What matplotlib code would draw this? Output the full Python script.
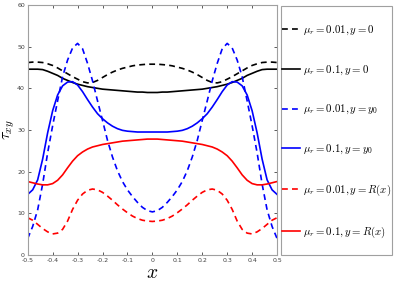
import matplotlib
matplotlib.use("Agg")
import matplotlib.pyplot as plt
from matplotlib.patches import Rectangle

plt.rcParams['mathtext.fontset'] = 'cm'

x = [-0.50, -0.48, -0.46, -0.44, -0.42, -0.40, -0.38, -0.36, -0.34, -0.32,
     -0.30, -0.28, -0.26, -0.24, -0.22, -0.20, -0.18, -0.16, -0.14, -0.12,
     -0.10, -0.08, -0.06, -0.04, -0.02, 0.00,
     0.02, 0.04, 0.06, 0.08, 0.10, 0.12, 0.14, 0.16, 0.18, 0.20,
     0.22, 0.24, 0.26, 0.28, 0.30, 0.32, 0.34, 0.36, 0.38, 0.40,
     0.42, 0.44, 0.46, 0.48, 0.50]

black_dashed = [46.2, 46.3, 46.3, 46.2, 45.9, 45.5, 44.9, 44.2, 43.5, 42.8,
                42.2, 41.6, 41.3, 41.4, 41.9, 42.6, 43.3, 43.9, 44.4, 44.8,
                45.1, 45.4, 45.6, 45.7, 45.8, 45.8,
                45.8, 45.7, 45.6, 45.4, 45.1, 44.8, 44.4, 43.9, 43.3, 42.6,
                41.9, 41.4, 41.3, 41.6, 42.2, 42.8, 43.5, 44.2, 44.9, 45.5,
                45.9, 46.2, 46.3, 46.3, 46.2]

black_solid = [44.6, 44.6, 44.6, 44.5, 44.1, 43.6, 43.1, 42.4, 41.9, 41.4,
               41.0, 40.7, 40.4, 40.2, 40.0, 39.8, 39.7, 39.6, 39.5, 39.4,
               39.3, 39.2, 39.1, 39.1, 39.0, 39.0,
               39.0, 39.1, 39.1, 39.2, 39.3, 39.4, 39.5, 39.6, 39.7, 39.8,
               40.0, 40.2, 40.4, 40.7, 41.0, 41.4, 41.9, 42.4, 43.1, 43.6,
               44.1, 44.5, 44.6, 44.6, 44.6]

blue_dashed = [3.9, 6.8, 10.8, 17.0, 24.5, 31.0, 37.0, 42.8, 46.8, 49.7,
               50.8, 49.5, 46.0, 41.8, 37.0, 32.3, 27.5, 23.5, 20.2, 17.6,
               15.6, 14.0, 12.6, 11.4, 10.6, 10.3,
               10.6, 11.4, 12.6, 14.0, 15.6, 17.6, 20.2, 23.5, 27.5, 32.3,
               37.0, 41.8, 46.0, 49.5, 50.8, 49.7, 46.8, 42.8, 37.0, 31.0,
               24.5, 17.0, 10.8, 6.8, 3.9]

blue_solid = [14.5, 15.6, 18.0, 23.0, 29.3, 34.6, 38.4, 40.6, 41.5, 41.6,
              40.8, 39.2, 37.3, 35.5, 33.9, 32.7, 31.7, 30.9, 30.3, 29.9,
              29.7, 29.6, 29.5, 29.5, 29.5, 29.5,
              29.5, 29.5, 29.5, 29.6, 29.7, 29.9, 30.3, 30.9, 31.7, 32.7,
              33.9, 35.5, 37.3, 39.2, 40.8, 41.6, 41.5, 40.6, 38.4, 34.6,
              29.3, 23.0, 18.0, 15.6, 14.5]

red_dashed = [8.9, 8.3, 7.3, 6.3, 5.5, 5.0, 5.2, 6.1, 8.1, 10.9,
              13.1, 14.6, 15.5, 15.8, 15.6, 15.0, 14.1, 13.1, 12.0, 11.0,
              10.1, 9.3, 8.7, 8.3, 8.1, 8.0,
              8.1, 8.3, 8.7, 9.3, 10.1, 11.0, 12.0, 13.1, 14.1, 15.0,
              15.6, 15.8, 15.5, 14.6, 13.1, 10.9, 8.1, 6.1, 5.2, 5.0,
              5.5, 6.3, 7.3, 8.3, 8.9]

red_solid = [17.6, 17.3, 17.0, 16.8, 16.8, 17.1, 17.9, 19.2, 20.9, 22.5,
             23.8, 24.7, 25.4, 25.9, 26.2, 26.5, 26.7, 26.9, 27.1, 27.3,
             27.4, 27.5, 27.6, 27.7, 27.8, 27.8,
             27.8, 27.7, 27.6, 27.5, 27.4, 27.3, 27.1, 26.9, 26.7, 26.5,
             26.2, 25.9, 25.4, 24.7, 23.8, 22.5, 20.9, 19.2, 17.9, 17.1,
             16.8, 16.8, 17.0, 17.3, 17.6]

labels = [r'$\mu_r = 0.01, y = 0$', r'$\mu_r = 0.1, y = 0$',
          r'$\mu_r = 0.01, y = y_0$', r'$\mu_r = 0.1, y = y_0$',
          r'$\mu_r = 0.01, y = R(x)$', r'$\mu_r = 0.1, y = R(x)$']

xticks = [-0.5, -0.4, -0.3, -0.2, -0.1, 0, 0.1, 0.2, 0.3, 0.4, 0.5]
xticklabels = ['-0.5', '-0.4', '-0.3', '-0.2', '-0.1', '0', '0.1', '0.2', '0.3', '0.4', '0.5']
yticks = [0, 10, 20, 30, 40, 50, 60]

fig = plt.figure(figsize=(3.99, 2.84), dpi=100)
ax = fig.add_axes([0.0694, 0.103, 0.625, 0.879])

series = [(black_dashed, 'k', '--'), (black_solid, 'k', '-'),
          (blue_dashed, '#0000ff', '--'), (blue_solid, '#0000ff', '-'),
          (red_dashed, '#ff0000', '--'), (red_solid, '#ff0000', '-')]
for (ys, c, ls), lab in zip(series, labels):
    ax.plot(x, ys, color=c, linestyle=ls, linewidth=1.2, label=lab,
            dashes=(3.5, 2.5) if ls == '--' else (None, None))

ax.set_xlim(-0.5, 0.5)
ax.set_ylim(0, 60)
ax.set_xticks(xticks)
ax.set_xticklabels(xticklabels)
ax.set_yticks(yticks)
ax.tick_params(direction='in', length=2.5, width=0.6, labelsize=4.5,
               colors='#404040', top=True, right=True, pad=2)
for s in ax.spines.values():
    s.set_color('#a0a0a0')
    s.set_linewidth(0.8)

ax.set_xlabel(r'$x$', fontsize=14, labelpad=0)
ax.set_ylabel(r'$\tau_{xy}$', fontsize=11.5, labelpad=0)

fig.patches.append(Rectangle((0.7043, 0.1021), 0.278, 0.877, transform=fig.transFigure,
                             fill=False, edgecolor='#a0a0a0', linewidth=0.8))

leg = fig.legend(loc='upper left', bbox_to_anchor=(0.7068, 0.918), borderaxespad=0,
                 fontsize=7.8, labelspacing=2.45, handlelength=1.7, handletextpad=0.2,
                 borderpad=0, frameon=False)

fig.savefig('out.png', dpi=100)
